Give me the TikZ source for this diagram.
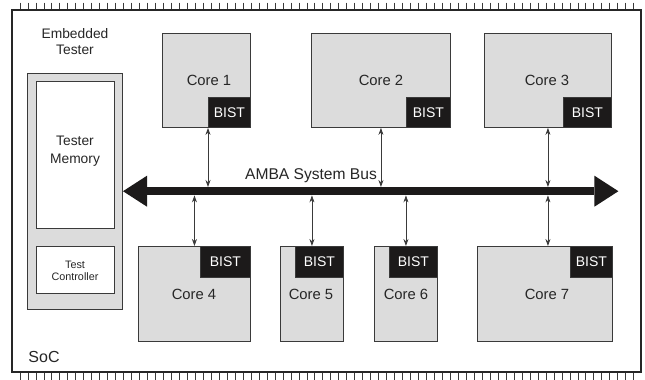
\documentclass[tikz,border=0pt]{standalone}
\usepackage{fontspec}
\setmainfont{Liberation Sans}
\usetikzlibrary{arrows.meta}
\definecolor{chip}{HTML}{DCDCDC}
\definecolor{edge}{HTML}{3A3A3A}
\definecolor{busfill}{HTML}{1C1A1A}

\begin{document}
\begin{tikzpicture}[x=1pt,y=-1pt,
  block/.style={draw=edge, line width=0.9pt, fill=chip, anchor=north west, inner sep=0pt},
  whitebox/.style={draw=edge, line width=0.9pt, fill=white, anchor=north west, inner sep=0pt},
  bistbox/.style={draw=edge, line width=0.9pt, fill=busfill, anchor=north west, inner sep=0pt,
    text=white, font=\fontsize{14}{16}\selectfont},
  corelabel/.style={font=\fontsize{14.8}{17}\selectfont, text=black!85, inner sep=0pt},
  link/.style={draw=edge, line width=0.8pt,
    {Stealth[length=7pt,width=5pt]}-{Stealth[length=7pt,width=5pt]}},
  pin/.style={draw=edge, line width=0.8pt}
]
\useasboundingbox (0,0) rectangle (645,380);

% package pins along the top and bottom edges
\foreach \i in {0,...,77} {
  \draw[pin] (20+\i*7.97,2.5) -- (20+\i*7.97,10);
  \draw[pin] (20+\i*7.97,372) -- (20+\i*7.97,379.5);
}
% chip outline
\draw[draw=black!85, line width=1.4pt, fill=white] (12,10) rectangle (641,372);
\node[font=\fontsize{16}{18}\selectfont, text=black!85, inner sep=0pt] (soc) at (44,357) {SoC};

% embedded tester
\node[font=\fontsize{13.8}{16}\selectfont, align=center, text=black!85, inner sep=0pt] (ettitle) at (75,42) {Embedded\\Tester};
\node[block, minimum width=95pt, minimum height=236pt] (et) at (27,73) {};
\node[whitebox, minimum width=78pt, minimum height=147pt] (mem) at (36,81) {};
\node[whitebox, minimum width=78pt, minimum height=47pt] (ctrl) at (36,246) {};
\node[font=\fontsize{13.8}{18}\selectfont, align=center, text=black!85, inner sep=0pt] (memtext) at (75,151) {Tester\\Memory};
\node[font=\fontsize{10.8}{12.5}\selectfont, align=center, text=black!85, inner sep=0pt] (ctrltext) at (75,271) {Test\\Controller};

% upper cores
\node[block, minimum width=88pt, minimum height=94pt] (c1) at (162,33) {};
\node[bistbox, minimum width=42pt, minimum height=30pt] (b1) at (208,97) {BIST};
\node[corelabel] (t1) at (209,80) {Core 1};
\node[block, minimum width=139pt, minimum height=94pt] (c2) at (311,33) {};
\node[bistbox, minimum width=44pt, minimum height=30pt] (b2) at (406,97) {BIST};
\node[corelabel] (t2) at (381,80) {Core 2};
\node[block, minimum width=127pt, minimum height=94pt] (c3) at (484,33) {};
\node[bistbox, minimum width=48pt, minimum height=30pt] (b3) at (563,97) {BIST};
\node[corelabel] (t3) at (547,80) {Core 3};

% lower cores
\node[block, minimum width=112pt, minimum height=95pt] (c4) at (138,246) {};
\node[bistbox, minimum width=50pt, minimum height=31pt] (b4) at (200,246) {BIST};
\node[corelabel] (t4) at (194,294) {Core 4};
\node[block, minimum width=63pt, minimum height=95pt] (c5) at (280,246) {};
\node[bistbox, minimum width=48pt, minimum height=31pt] (b5) at (295,246) {BIST};
\node[corelabel] (t5) at (311,294) {Core 5};
\node[block, minimum width=63pt, minimum height=95pt] (c6) at (374,246) {};
\node[bistbox, minimum width=48pt, minimum height=31pt] (b6) at (389,246) {BIST};
\node[corelabel] (t6) at (406,294) {Core 6};
\node[block, minimum width=135pt, minimum height=95pt] (c7) at (477,246) {};
\node[bistbox, minimum width=42pt, minimum height=31pt] (b7) at (570,246) {BIST};
\node[corelabel] (t7) at (547,294) {Core 7};

% AMBA system bus
\node[fill=busfill, anchor=north west, inner sep=0pt, minimum width=447pt, minimum height=8pt] (bus) at (147,187) {};
\fill[busfill] (bus.west) ++(0,-15.5) -- ++(-24,15.5) -- ++(24,15.5) -- cycle;
\fill[busfill] (bus.east) ++(0,-15.5) -- ++(24,15.5) -- ++(-24,15.5) -- cycle;
\node[font=\fontsize{15.6}{18}\selectfont, text=black!85, inner sep=0pt] (busname) at (311,176) {AMBA System Bus};

% core-to-bus links
\draw[link] (b1.south west) -- (b1.south west |- bus.north);
\draw[link] (c2.south) -- (c2.south |- bus.north);
\draw[link] (c3.south) -- (c3.south |- bus.north);
\draw[link] (c4.north |- bus.south) -- (c4.north);
\draw[link] (c5.north |- bus.south) -- (c5.north);
\draw[link] (c6.north |- bus.south) -- (c6.north);
\draw[link] (c3.south |- bus.south) -- (c3.south |- c7.north);
\end{tikzpicture}
\end{document}
